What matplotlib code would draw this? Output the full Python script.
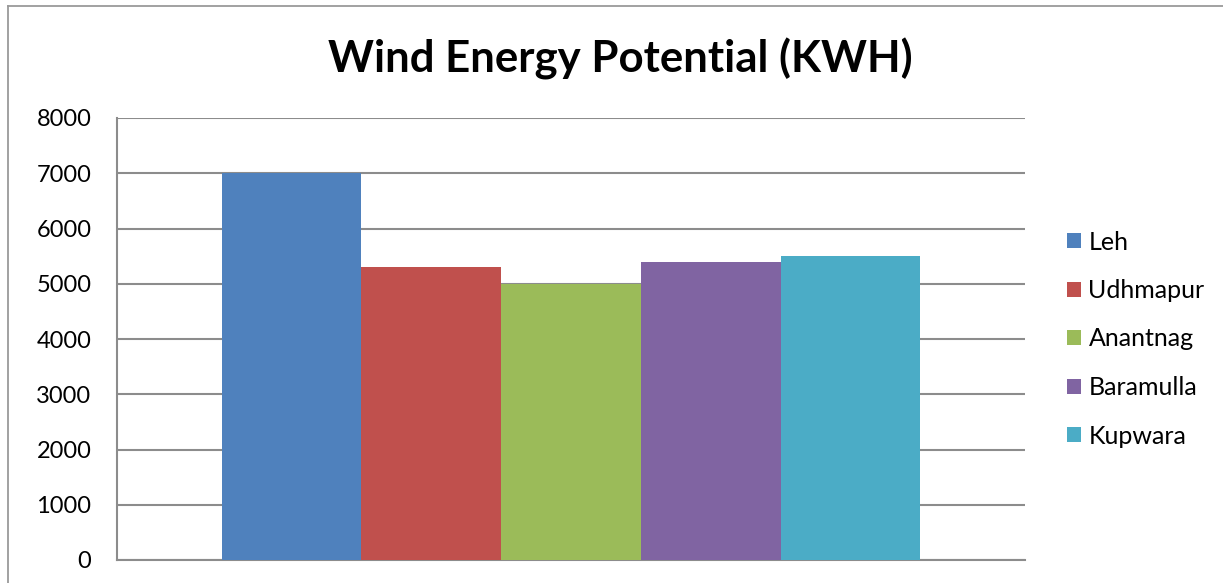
import matplotlib
matplotlib.use("Agg")
import matplotlib.pyplot as plt
from matplotlib.lines import Line2D

plt.rcParams["font.family"] = ["Lato", "DejaVu Sans"]

# district-wise wind energy potential
districts = ["Leh", "Udhmapur", "Anantnag", "Baramulla", "Kupwara"]
potential_kwh = [7000, 5300, 5000, 5400, 5500]
bar_colors = ["#4F81BD", "#C0504D", "#9BBB59", "#8064A2", "#4BACC6"]
y_ticks = [0, 1000, 2000, 3000, 4000, 5000, 6000, 7000, 8000]

W, H = 1223, 583
GRID = "#8C8C8C"

fig = plt.figure(figsize=(W / 100, H / 100), dpi=100, facecolor="white")
ax = fig.add_axes([117 / W, 1 - 560 / H, (1025 - 117) / W, (560 - 118) / H])

for i, (name, val, col) in enumerate(zip(districts, potential_kwh, bar_colors)):
    ax.bar(i, val, width=1.0, color=col, label=name, zorder=3)

ax.set_xlim(-1.25, 5.25)
ax.set_ylim(0, 8000)
ax.set_yticks(y_ticks)
ax.set_yticklabels([str(v) for v in y_ticks], fontsize=17)
ax.set_xticks([])
ax.tick_params(axis="y", length=0, pad=18.5)
ax.yaxis.grid(True, color=GRID, lw=1.5, zorder=0)
for side in ["top", "right"]:
    ax.spines[side].set_visible(False)
for side in ["left", "bottom"]:
    ax.spines[side].set_color(GRID)
    ax.spines[side].set_linewidth(1.5)

fig.text(620 / W, 1 - 72 / H, "Wind Energy Potential (KWH)",
         ha="center", va="baseline", fontsize=31.5, fontweight="bold")

fig.legend(loc="center left", bbox_to_anchor=(1067 / W, 1 - 339 / H),
           frameon=False, fontsize=18, handlelength=0.56, handleheight=0.56,
           handletextpad=0.3, labelspacing=1.02, borderpad=0, borderaxespad=0)

# chart-area border (left and top edges)
bx, by = 8 / W, 1 - 6 / H
fig.add_artist(Line2D([bx, bx], [-0.05, by], transform=fig.transFigure,
                      color="#9A9A9A", lw=1.3))
fig.add_artist(Line2D([bx, 1.05], [by, by], transform=fig.transFigure,
                      color="#9A9A9A", lw=1.3))

fig.savefig("out.png", dpi=100, facecolor="white")
